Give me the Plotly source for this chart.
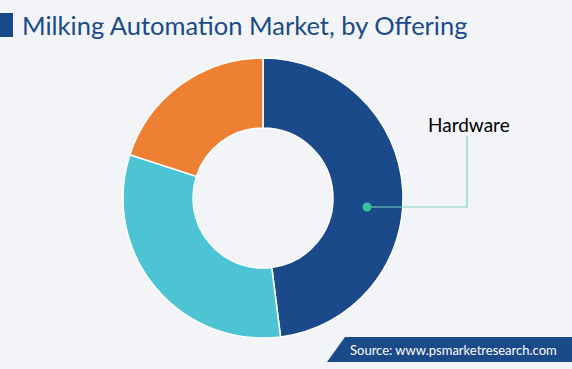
import plotly.graph_objects as go

categories = ["Hardware", "Software", "Services"]
shares = [48, 32, 20]
colors = ["#1a4a8a", "#4dc4d4", "#ee8033"]

W, H = 572, 369
BG = "#f2f4f8"

def px(x):
    return x / W

def py(y):
    return 1 - y / H

fig = go.Figure(go.Pie(
    labels=categories,
    values=shares,
    hole=0.5,
    sort=False,
    direction="clockwise",
    rotation=0,
    marker=dict(colors=colors, line=dict(color="white", width=1.5)),
    textinfo="none",
    hoverinfo="label+percent",
    showlegend=False,
    domain=dict(x=[px(123), px(403)], y=[py(338), py(58)]),
))

shapes = [
    # title bar marker
    dict(type="rect", xref="paper", yref="paper", x0=px(0), x1=px(13), y0=py(37), y1=py(13),
         fillcolor="#1a4a8a", line=dict(width=0), layer="above"),
    # source banner
    dict(type="path", xref="paper", yref="paper",
         path=f"M {px(345)} {py(337)} L {px(572)} {py(337)} L {px(572)} {py(362)} L {px(327)} {py(362)} Z",
         fillcolor="#1a4a8a", line=dict(width=0), layer="above"),
    # leader line
    dict(type="path", xref="paper", yref="paper",
         path=f"M {px(367)} {py(207)} L {px(467)} {py(207)} L {px(467)} {py(136)}",
         line=dict(color="#7fd3c4", width=1.2), layer="above"),
    dict(type="circle", xref="paper", yref="paper",
         x0=px(362.5), x1=px(371.5), y0=py(211.5), y1=py(202.5),
         fillcolor="#3dbf9e", line=dict(width=0), layer="above"),
]

annotations = [
    dict(text="Milking Automation Market, by Offering", xref="paper", yref="paper",
         x=px(20), y=py(25), xanchor="left", yanchor="middle", showarrow=False,
         font=dict(family="Lato, sans-serif", size=25.5, color="#1a4a8a")),
    dict(text="Source: www.psmarketresearch.com", xref="paper", yref="paper",
         x=px(348), y=py(350), xanchor="left", yanchor="middle", showarrow=False,
         font=dict(family="Lato, sans-serif", size=13, color="white")),
    dict(text="Hardware", xref="paper", yref="paper",
         x=px(469), y=py(124), xanchor="center", yanchor="middle", showarrow=False,
         font=dict(family="Lato, sans-serif", size=19, color="#000000")),
]

fig.update_layout(
    width=W, height=H,
    margin=dict(l=0, r=0, t=0, b=0),
    paper_bgcolor=BG, plot_bgcolor=BG,
    shapes=shapes, annotations=annotations,
)

fig.write_html(
    "out.html",
    config={"displayModeBar": False},
    post_script="document.body.style.margin='0';document.body.style.padding='0';"
                "document.body.style.background='#f2f4f8';document.body.style.overflow='hidden';",
)
